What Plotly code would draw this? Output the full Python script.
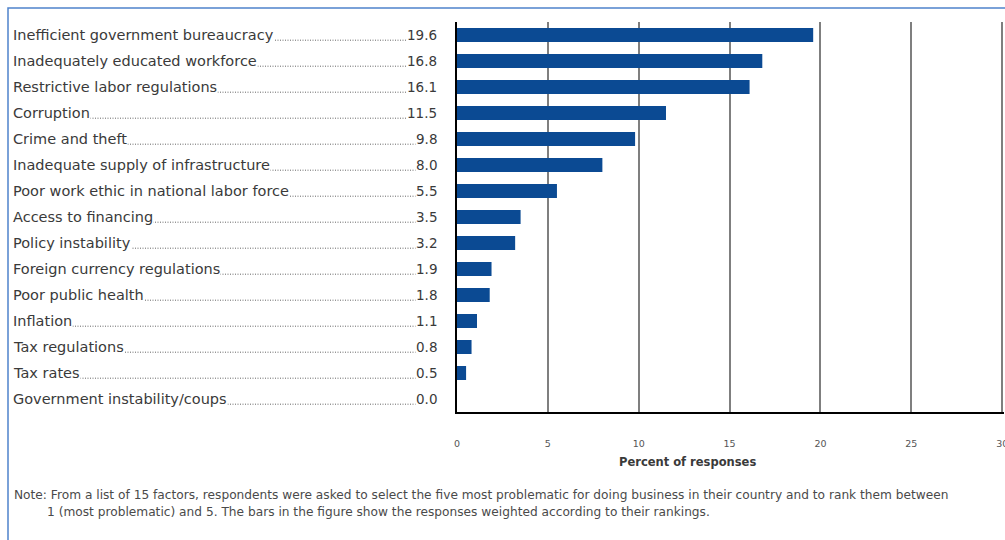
import plotly.graph_objects as go

categories = [
    "Inefficient government bureaucracy",
    "Inadequately educated workforce",
    "Restrictive labor regulations",
    "Corruption",
    "Crime and theft",
    "Inadequate supply of infrastructure",
    "Poor work ethic in national labor force",
    "Access to financing",
    "Policy instability",
    "Foreign currency regulations",
    "Poor public health",
    "Inflation",
    "Tax regulations",
    "Tax rates",
    "Government instability/coups",
]
values = [19.6, 16.8, 16.1, 11.5, 9.8, 8.0, 5.5, 3.5, 3.2, 1.9, 1.8, 1.1, 0.8, 0.5, 0.0]
x_ticks = [0, 5, 10, 15, 20, 25, 30]
x_title = "Percent of responses"
note_line1 = "Note: From a list of 15 factors, respondents were asked to select the five most problematic for doing business in their country and to rank them between"
note_line2 = "1 (most problematic) and 5. The bars in the figure show the responses weighted according to their rankings."

W, H = 1005, 540
L, R, T, B = 457, 1, 22, 128
PW = W - L - R
PH = H - T - B


def px(xp):
    return (xp - L) / PW


def py(yp):
    return (H - B - yp) / PH


FONT = "DejaVu Sans, Liberation Sans, sans-serif"
TXT = "#3a3a3a"
BAR = "#0b4a93"

fig = go.Figure()
fig.add_trace(go.Bar(
    x=values, y=categories, orientation="h",
    marker=dict(color=BAR, line=dict(width=0)),
    hoverinfo="x+y",
))

annotations = []
shapes = []
for i, (c, v) in enumerate(zip(categories, values)):
    annotations.append(dict(
        x=px(12), xref="paper", y=c, yref="y", text=c, showarrow=False,
        xanchor="left", yanchor="middle", bgcolor="white", borderpad=0,
        font=dict(family=FONT, size=14.5, color=TXT),
    ))
    annotations.append(dict(
        x=px(438), xref="paper", y=c, yref="y", text=f"{v:.1f}", showarrow=False,
        xanchor="right", yanchor="middle", bgcolor="white", borderpad=0,
        font=dict(family=FONT, size=13.5, color=TXT),
    ))
    shapes.append(dict(
        type="line", xref="paper", yref="y",
        x0=px(20), x1=px(430), y0=i + 0.2, y1=i + 0.2,
        line=dict(color="#666666", width=1, dash="1px,1.5px"),
        layer="below",
    ))

annotations.append(dict(
    x=px(687), xref="paper", y=py(462), yref="paper", text="<b>" + x_title + "</b>",
    showarrow=False, xanchor="center", yanchor="middle",
    font=dict(family=FONT, size=11.5, color=TXT),
))
annotations.append(dict(
    x=px(12), xref="paper", y=py(495), yref="paper", text=note_line1,
    showarrow=False, xanchor="left", yanchor="middle",
    font=dict(family=FONT, size=12.2, color="#4a4a4a"),
))
annotations.append(dict(
    x=px(45), xref="paper", y=py(512), yref="paper", text=note_line2,
    showarrow=False, xanchor="left", yanchor="middle",
    font=dict(family=FONT, size=12.2, color="#4a4a4a"),
))

# blue frame (top and left edges)
shapes.append(dict(
    type="path", xref="paper", yref="paper",
    path=f"M {px(8)},{py(545)} L {px(8)},{py(8)} L {px(1010)},{py(8)}",
    line=dict(color="#4f82cc", width=1.5),
))

fig.update_layout(
    width=W, height=H,
    margin=dict(l=L, r=R, t=T, b=B, pad=0, autoexpand=False),
    paper_bgcolor="white", plot_bgcolor="white",
    showlegend=False,
    bargap=0.46,
    annotations=annotations,
    shapes=shapes,
    xaxis=dict(
        range=[0, 30.1], tickvals=x_ticks, ticktext=[str(t) for t in x_ticks],
        showgrid=True, gridcolor="#7f7f7f", gridwidth=1.5,
        zeroline=False, showline=True, linecolor="black", linewidth=2,
        ticks="", ticklabelstandoff=22, ticklabeloverflow="allow",
        tickfont=dict(family=FONT, size=9.5, color="#555555"),
        automargin=False,
        fixedrange=True,
    ),
    yaxis=dict(
        categoryorder="array", categoryarray=categories, autorange="reversed",
        showticklabels=False, showgrid=False, zeroline=False,
        showline=True, linecolor="black", linewidth=2, ticks="",
        fixedrange=True,
    ),
)

fig.write_html(
    "out.html",
    config={"displayModeBar": False},
    post_script="document.body.style.margin='0';document.body.style.overflow='hidden';",
)
